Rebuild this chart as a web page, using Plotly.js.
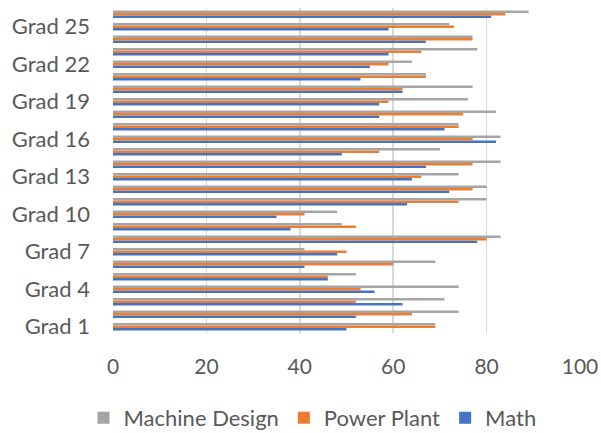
<!DOCTYPE html>
<html>
<head>
<meta charset="utf-8">
<script src="https://cdn.plot.ly/plotly-3.0.1.min.js"></script>
<style>
  html, body { margin: 0; padding: 0; background: #ffffff; }
  #chart { width: 601px; height: 433px; }
</style>
</head>
<body>
<div id="chart"></div>
<script>
// Grades 1..26, bottom to top
const grades = [
  'Grad 1', 'Grad 2', 'Grad 3', 'Grad 4', 'Grad 5', 'Grad 6', 'Grad 7',
  'Grad 8', 'Grad 9', 'Grad 10', 'Grad 11', 'Grad 12', 'Grad 13', 'Grad 14',
  'Grad 15', 'Grad 16', 'Grad 17', 'Grad 18', 'Grad 19', 'Grad 20', 'Grad 21',
  'Grad 22', 'Grad 23', 'Grad 24', 'Grad 25', 'Grad 26'
];

const machineDesign = [69, 74, 71, 74, 52, 69, 41, 83, 49, 48, 80, 80, 74, 83,
                       70, 83, 74, 82, 76, 77, 67, 64, 78, 77, 72, 89];
const powerPlant    = [69, 64, 52, 53, 46, 60, 50, 80, 52, 41, 74, 77, 66, 77,
                       57, 77, 74, 75, 59, 62, 67, 59, 66, 77, 73, 84];
const math          = [50, 52, 62, 56, 46, 41, 48, 78, 38, 35, 63, 72, 64, 67,
                       49, 82, 71, 57, 57, 62, 53, 55, 59, 67, 59, 81];

// Only every third grade is labelled on the axis
const gradeLabels = ['Grad 1', 'Grad 4', 'Grad 7', 'Grad 10', 'Grad 13',
                     'Grad 16', 'Grad 19', 'Grad 22', 'Grad 25'];
const scoreTicks = [0, 20, 40, 60, 80, 100];

const font = 'Lato, "Open Sans", sans-serif';
const textGray = '#595959';

function series(name, values, color) {
  return {
    type: 'bar',
    orientation: 'h',
    name: name,
    y: grades,
    x: values,
    marker: { color: color },
    hoverinfo: 'x+y+name'
  };
}

// Plotly stacks grouped horizontal bars upward by trace order,
// so Math goes first (bottom) and Machine Design last (top).
const data = [
  series('Math', math, '#4472c4'),
  series('Power Plant', powerPlant, '#ed7d31'),
  series('Machine Design', machineDesign, '#a5a5a5')
];

const layout = {
  width: 601,
  height: 433,
  margin: { l: 113, r: 21, t: 8, b: 100 },
  paper_bgcolor: '#ffffff',
  plot_bgcolor: '#ffffff',
  barmode: 'group',
  bargap: 0.41,
  bargroupgap: 0,
  font: { family: font, size: 22, color: textGray },
  showlegend: true,
  legend: {
    orientation: 'h',
    traceorder: 'reversed',
    xref: 'container',
    yref: 'container',
    x: 0.52,
    xanchor: 'center',
    y: 0.035,
    yanchor: 'middle',
    font: { family: font, size: 22, color: textGray },
    itemwidth: 30
  },
  xaxis: {
    range: [0, 100],
    tickvals: scoreTicks,
    ticktext: scoreTicks.map(String),
    showgrid: true,
    gridcolor: '#d9d9d9',
    gridwidth: 1.5,
    zeroline: false,
    showline: false,
    ticks: '',
    ticklabelstandoff: 19,
    tickfont: { family: font, size: 21, color: textGray },
    automargin: false,
    fixedrange: true
  },
  yaxis: {
    type: 'category',
    categoryorder: 'array',
    categoryarray: grades,
    tickvals: gradeLabels,
    ticktext: gradeLabels,
    showgrid: false,
    zeroline: false,
    showline: false,
    ticks: '',
    ticklabelstandoff: 22,
    tickfont: { family: font, size: 22, color: textGray },
    automargin: false,
    fixedrange: true
  }
};

Plotly.newPlot('chart', data, layout, { displayModeBar: false, staticPlot: true });
</script>
</body>
</html>
